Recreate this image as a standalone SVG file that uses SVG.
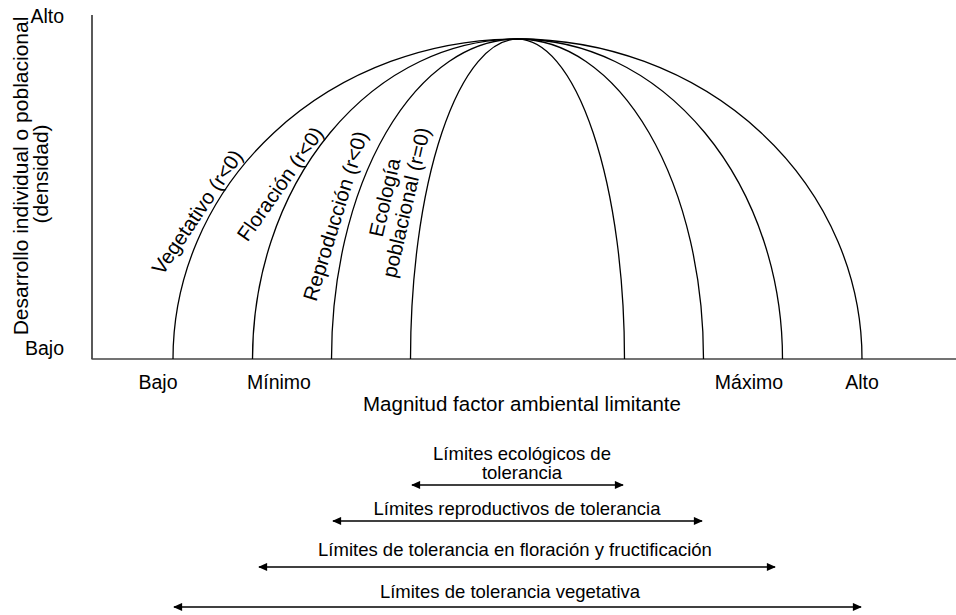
<svg xmlns="http://www.w3.org/2000/svg" width="956" height="615" viewBox="0 0 956 615">
<style>
text{font-family:"Liberation Sans",Arial,sans-serif;fill:#000}
.ax{font-size:19.5px}
.lim{font-size:18.5px;text-anchor:middle}
.cl{font-size:20.5px;text-anchor:middle}
.curve{fill:none;stroke:#000;stroke-width:1.3}
.arr{stroke:#000;stroke-width:1.3;marker-start:url(#ah);marker-end:url(#ah)}
</style>
<defs>
<marker id="ah" viewBox="0 0 10 10" refX="9" refY="5" markerWidth="10" markerHeight="9" markerUnits="userSpaceOnUse" orient="auto-start-reverse">
<path d="M0,0.5 L10,5 L0,9.5 Z" fill="#000"/>
</marker>
</defs>
<rect width="956" height="615" fill="#fff"/>
<g id="axes">
<line x1="92" y1="15" x2="92" y2="359" stroke="#000" stroke-width="1.3"/>
<line x1="91.5" y1="359" x2="956" y2="359" stroke="#444" stroke-width="1.6"/>
<text class="ax" x="64" y="23" text-anchor="end">Alto</text>
<text class="ax" x="64" y="355" text-anchor="end">Bajo</text>
<text transform="translate(28,176) rotate(-90)" font-size="21" text-anchor="middle">Desarrollo individual o poblacional</text>
<text transform="translate(48,174) rotate(-90)" font-size="21" text-anchor="middle">(densidad)</text>
<text class="ax" x="158" y="389" text-anchor="middle">Bajo</text>
<text class="ax" x="279" y="389" text-anchor="middle">Mínimo</text>
<text class="ax" x="749" y="389" text-anchor="middle">Máximo</text>
<text class="ax" x="862" y="389" text-anchor="middle">Alto</text>
<text x="522" y="411" font-size="20.5" text-anchor="middle">Magnitud factor ambiental limitante</text>
</g>
<g id="curves">
<path class="curve" d="M173,359 A344.5,320 0 0 1 862,359"/>
<path class="curve" d="M252.5,359 A265,320 0 0 1 782.5,359"/>
<path class="curve" d="M331.5,359 A186,320 0 0 1 703.5,359"/>
<path class="curve" d="M410.5,359 A107,320 0 0 1 624.5,359"/>
</g>
<g id="curve-labels">
<text class="cl" transform="translate(203,216) rotate(-56)">Vegetativo (r&lt;0)</text>
<text class="cl" transform="translate(286,188) rotate(-55)">Floración (r&lt;0)</text>
<text class="cl" transform="translate(342,218) rotate(-73)">Reproducción (r&lt;0)</text>
<text class="cl" transform="translate(413,204) rotate(-77)"><tspan x="0" y="-22">Ecología</tspan><tspan x="0" y="0">poblacional (r=0)</tspan></text>
</g>
<g id="connectors">
<line class="arr" x1="412" y1="485" x2="623" y2="485"/>
<line class="arr" x1="333" y1="521" x2="702" y2="521"/>
<line class="arr" x1="259" y1="567" x2="775" y2="567"/>
<line class="arr" x1="174" y1="607" x2="861" y2="607"/>
</g>
<g id="limit-labels">
<text class="lim" x="522" y="460">Límites ecológicos de</text>
<text class="lim" x="522" y="479">tolerancia</text>
<text class="lim" x="517" y="515">Límites reproductivos de tolerancia</text>
<text class="lim" x="515" y="556">Límites de tolerancia en floración y fructificación</text>
<text class="lim" x="510" y="598">Límites de tolerancia vegetativa</text>
</g>
</svg>
